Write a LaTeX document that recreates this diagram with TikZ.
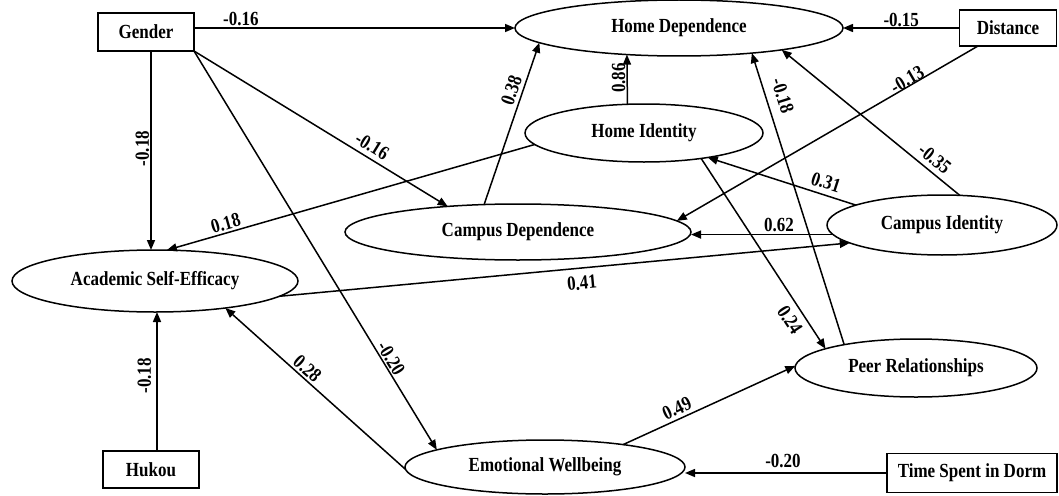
\documentclass[tikz,border=0pt]{standalone}
\usepackage{fontspec}
\setmainfont{Liberation Serif}[FakeStretch=0.85]
\usetikzlibrary{shapes.geometric,arrows.meta}
\begin{document}
\begin{tikzpicture}[x=1pt,y=-1pt,
  every node/.style={font=\fontsize{20}{23}\selectfont\bfseries},
  var/.style={draw, line width=1.5pt, ellipse, inner sep=0pt, outer sep=0pt},
  obs/.style={draw, line width=1.5pt, rectangle, inner sep=0pt, outer sep=0pt},
  arr/.style={line width=1.5pt, -{Triangle[length=10pt,width=8pt]}},
  lbl/.style={sloped, inner sep=1pt},
  vlbl/.style={rotate=90, anchor=south, inner sep=1pt},
]
\useasboundingbox (0,0) rectangle (1059,495);

% observed variables
\node[obs, minimum width=96pt, minimum height=38pt] (gender) at (146,32) {Gender};
\node[obs, minimum width=97pt, minimum height=36pt] (dist) at (1008,28) {Distance};
\node[obs, minimum width=96pt, minimum height=37pt] (hukou) at (151,469.5) {Hukou};
\node[obs, minimum width=170pt, minimum height=39pt] (tsd) at (972,473) {Time Spent in Dorm};

% latent variables
\node[var, minimum width=328pt, minimum height=56pt] (hd) at (679,28) {Home Dependence};
\node[var, minimum width=238pt, minimum height=58pt] (hi) at (644,133) {Home Identity};
\node[var, minimum width=346pt, minimum height=56pt] (cd) at (518,232) {Campus Dependence};
\node[var, minimum width=230pt, minimum height=60pt] (ci) at (942,225) {Campus Identity};
\node[var, minimum width=286pt, minimum height=62pt] (ase) at (155,281) {Academic Self-Efficacy};
\node[var, minimum width=280pt, minimum height=54pt] (ew) at (545,467) {Emotional Wellbeing};
\node[var, minimum width=242pt, minimum height=58pt] (pr) at (916,368) {Peer Relationships};

\coordinate (g1) at ([xshift=5pt]gender.south);
\coordinate (h1) at ([xshift=6pt]hukou.north);
\coordinate (d1) at ([xshift=-30pt]dist.south);

% paths
\draw[arr] (gender.east |- hd.west) -- node[lbl, pos=.146, above]{-0.16} (hd.west);
\draw[arr] (dist.west) -- node[lbl, pos=.5, above, inner sep=0.5pt]{-0.15} (hd.east);
\draw[arr] (g1) -- node[vlbl, pos=.49]{-0.18} (g1 |- ase.north);
\draw[arr] (h1) -- node[vlbl, pos=.54, inner sep=5pt]{-0.18} (h1 |- ase.south);
\draw[arr] (hi.120) -- node[vlbl, pos=.53]{0.86} (hd.207);
\draw[arr] (cd.141) -- node[lbl, pos=.683, above, inner sep=3.5pt]{0.38} (hd.186);
\draw[arr] (gender.south east) -- node[lbl, pos=.677, above, inner sep=4.5pt]{-0.16} (cd.160);
\draw[arr] (gender.south east) -- node[lbl, pos=.782, above, inner sep=1pt]{-0.20} (ew.171);
\draw[arr] (hi.186) -- node[lbl, pos=.833, above, inner sep=2pt]{0.18} (ase.69);
\draw[arr] (d1) -- node[lbl, pos=.224, above, inner sep=-1pt]{-0.13} (cd.4);
\draw[arr] (ci.59) -- node[lbl, pos=.185, above, inner sep=5pt]{-0.35} (hd.348);
\draw[arr] (pr.162) -- node[lbl, pos=.837, above, inner sep=9pt]{-0.18} (hd.341);
\draw[arr] (ci.167) -- node[lbl, pos=.227, above, inner sep=5pt]{0.31} (hi.339);
\draw[arr] (ci.185) -- node[lbl, pos=.38, above, inner sep=2pt]{0.62} (ci.185 -| cd.east);
\draw[arr] (ase.353) -- node[lbl, pos=.528, below, inner sep=7.5pt]{0.41} (ci.191);
\draw[arr] (hi.336) -- node[lbl, pos=.808, below, inner sep=6.5pt]{0.24} (pr.168);
\draw[arr] (ew.181) -- node[lbl, pos=.58, above, inner sep=2pt]{0.28} (ase.339);
\draw[arr] (ew.16) -- node[lbl, pos=.338, above, inner sep=3pt]{0.49} (pr.179);
\draw[arr] (tsd.west) -- node[lbl, pos=.515, above, inner sep=4.5pt]{-0.20} (tsd.west -| ew.east);
\end{tikzpicture}
\end{document}
